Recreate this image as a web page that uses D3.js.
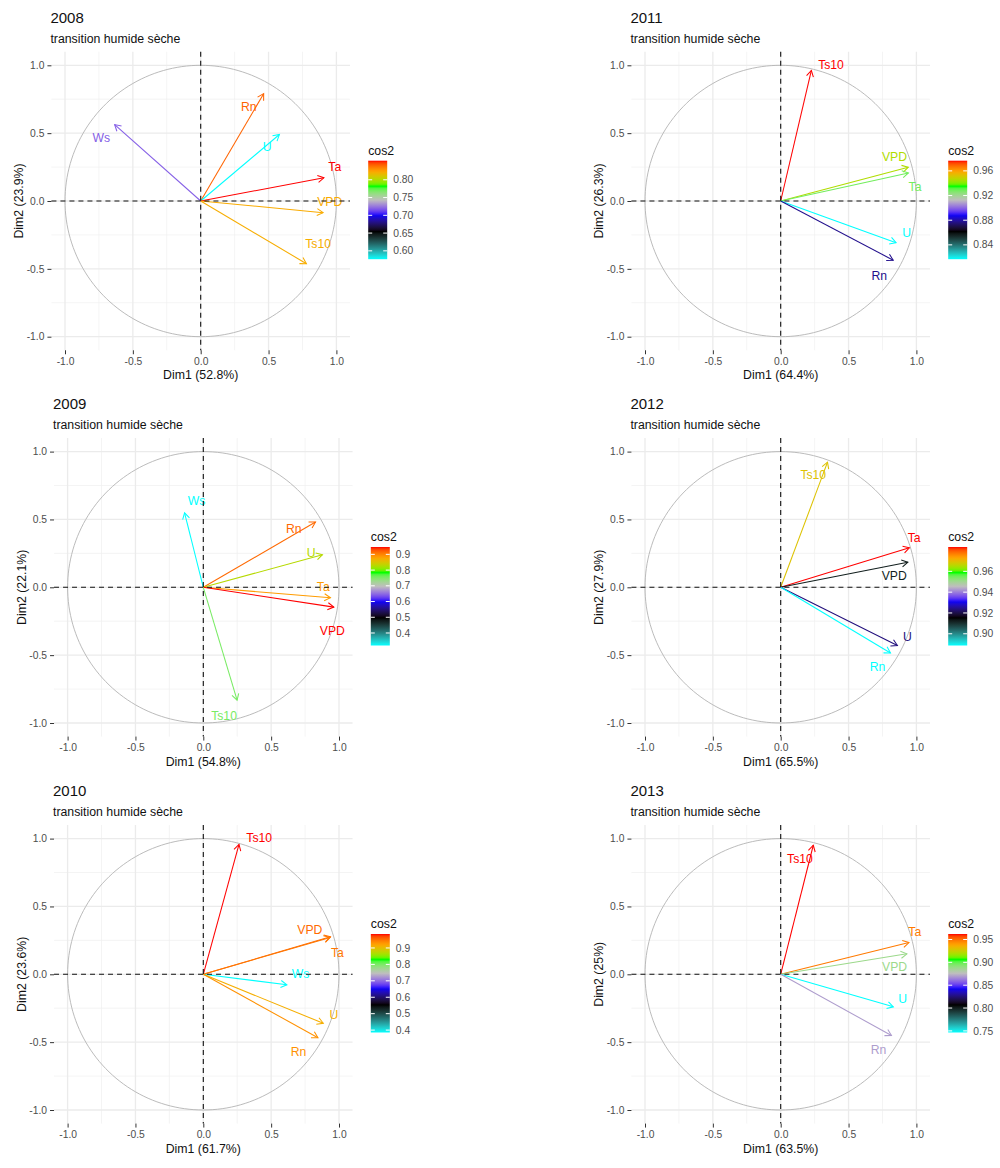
<!DOCTYPE html>
<html>
<head>
<meta charset="utf-8">
<title>ACP par année</title>
<script src="https://cdn.jsdelivr.net/npm/d3@7"></script>
<style>
    body, html {
        margin: 0;
        padding: 0;
        background: #fff;
    }
    svg text {
        font-family: "Liberation Sans", Arial, sans-serif;
    }
</style>
</head>
<body>
<svg id="chart" width="1000" height="1168"></svg>
<script>
// ---- data (coordinates on Dim1 / Dim2) ----
var years = ["2008", "2009", "2010", "2011", "2012", "2013"];
var dim1Pct = [52.8, 54.8, 61.7, 64.4, 65.5, 63.5];
var dim2Pct = [23.9, 22.1, 23.6, 26.3, 27.9, 25];

var vars2008 = ["Rn", "U", "Ta", "VPD", "Ts10", "Ws"];
var dim1_2008 = [0.464, 0.580, 0.908, 0.902, 0.779, -0.634];
var dim2_2008 = [0.791, 0.490, 0.171, -0.086, -0.462, 0.563];
var lab1_2008 = [0.354, 0.489, 0.988, 0.951, 0.865, -0.732];
var lab2_2008 = [0.698, 0.403, 0.251, -0.007, -0.314, 0.467];
var ticks2008 = ["0.60", "0.65", "0.70", "0.75", "0.80"];

var vars2009 = ["Ws", "Rn", "U", "Ta", "VPD", "Ts10"];
var dim1_2009 = [-0.138, 0.827, 0.878, 0.937, 0.962, 0.249];
var dim2_2009 = [0.549, 0.481, 0.240, -0.077, -0.146, -0.832];
var lab1_2009 = [-0.049, 0.667, 0.795, 0.884, 0.951, 0.153];
var lab2_2009 = [0.640, 0.432, 0.252, 0.005, -0.316, -0.946];
var ticks2009 = ["0.4", "0.5", "0.6", "0.7", "0.8", "0.9"];

var vars2010 = ["Ts10", "VPD", "Ta", "Ws", "U", "Rn"];
var dim1_2010 = [0.263, 0.937, 0.935, 0.616, 0.884, 0.845];
var dim2_2010 = [0.957, 0.277, 0.272, -0.077, -0.361, -0.467];
var lab1_2010 = [0.412, 0.785, 0.988, 0.716, 0.963, 0.701];
var lab2_2010 = [1.007, 0.333, 0.160, 0.002, -0.294, -0.568];
var ticks2010 = ["0.4", "0.5", "0.6", "0.7", "0.8", "0.9"];

var vars2011 = ["Ts10", "VPD", "Ta", "U", "Rn"];
var dim1_2011 = [0.226, 0.940, 0.941, 0.850, 0.829];
var dim2_2011 = [0.962, 0.249, 0.207, -0.307, -0.436];
var lab1_2011 = [0.371, 0.838, 0.990, 0.929, 0.727];
var lab2_2011 = [1.007, 0.329, 0.103, -0.236, -0.548];
var ticks2011 = ["0.84", "0.88", "0.92", "0.96"];

var vars2012 = ["Ts10", "Ta", "VPD", "U", "Rn"];
var dim1_2012 = [0.345, 0.948, 0.937, 0.860, 0.809];
var dim2_2012 = [0.922, 0.291, 0.185, -0.429, -0.484];
var lab1_2012 = [0.240, 0.984, 0.837, 0.933, 0.714];
var lab2_2012 = [0.827, 0.368, 0.086, -0.363, -0.584];
var ticks2012 = ["0.90", "0.92", "0.94", "0.96"];

var vars2013 = ["Ts10", "Ta", "VPD", "U", "Rn"];
var dim1_2013 = [0.240, 0.945, 0.930, 0.830, 0.816];
var dim2_2013 = [0.951, 0.234, 0.151, -0.240, -0.451];
var lab1_2013 = [0.142, 0.988, 0.839, 0.898, 0.721];
var lab2_2013 = [0.852, 0.314, 0.059, -0.182, -0.557];
var ticks2013 = ["0.75", "0.80", "0.85", "0.90", "0.95"];

var axisTicks = [-1, -0.5, 0, 0.5, 1];
var axisTickLabels = ["-1.0", "-0.5", "0.0", "0.5", "1.0"];
var minorTicks = [-0.75, -0.25, 0.25, 0.75];

// ---- layout ----
var unit = 135.7;
var centers = {
    "2008": [200.7, 201], "2009": [203.3, 587.3], "2010": [203.3, 974.3],
    "2011": [780.7, 201], "2012": [780.7, 587.3], "2013": [780.7, 974.3]
};

// gradient for cos2 (interpolated in Lab, like ggplot)
var palStops = [0, 0.28, 0.45, 0.6, 0.74, 0.89, 1];
var palCols = ["cyan", "black", "blue", "#BEBEBE", "#00FF00", "orange", "red"];
var pal = d3.scaleLinear().domain(palStops).range(palCols).interpolate(d3.interpolateLab);

var panels = [
    [vars2008, dim1_2008, dim2_2008, lab1_2008, lab2_2008, ticks2008],
    [vars2009, dim1_2009, dim2_2009, lab1_2009, lab2_2009, ticks2009],
    [vars2010, dim1_2010, dim2_2010, lab1_2010, lab2_2010, ticks2010],
    [vars2011, dim1_2011, dim2_2011, lab1_2011, lab2_2011, ticks2011],
    [vars2012, dim1_2012, dim2_2012, lab1_2012, lab2_2012, ticks2012],
    [vars2013, dim1_2013, dim2_2013, lab1_2013, lab2_2013, ticks2013]
];

var svg = d3.select("#chart");
var defs = svg.append("defs");

panels.forEach(function(p, i) {
    var year = years[i];
    var rows = p[0].map(function(name, j) {
        return {name: name, x: p[1][j], y: p[2][j], lx: p[3][j], ly: p[4][j],
                cos2: p[1][j] * p[1][j] + p[2][j] * p[2][j]};
    });
    var ext = d3.extent(rows, function(d) { return d.cos2; });
    var colorOf = function(v) { return pal((v - ext[0]) / (ext[1] - ext[0])); };

    var cx = centers[year][0], cy = centers[year][1];
    var x = d3.scaleLinear().domain([-1.1, 1.1]).range([cx - 1.1 * unit, cx + 1.1 * unit]);
    var y = d3.scaleLinear().domain([-1.1, 1.1]).range([cy + 1.1 * unit, cy - 1.1 * unit]);
    var left = x(-1.1), right = x(1.1), top = y(1.1), bottom = y(-1.1);

    var g = svg.append("g");

    // grid
    g.selectAll(".vminor").data(minorTicks).enter().append("line")
        .attr("x1", function(d) { return x(d); }).attr("x2", function(d) { return x(d); })
        .attr("y1", top).attr("y2", bottom)
        .attr("stroke", "#EFEFEF").attr("stroke-width", 0.7);
    g.selectAll(".hminor").data(minorTicks).enter().append("line")
        .attr("y1", function(d) { return y(d); }).attr("y2", function(d) { return y(d); })
        .attr("x1", left).attr("x2", right)
        .attr("stroke", "#EFEFEF").attr("stroke-width", 0.7);
    g.selectAll(".vmajor").data(axisTicks).enter().append("line")
        .attr("x1", function(d) { return x(d); }).attr("x2", function(d) { return x(d); })
        .attr("y1", top).attr("y2", bottom)
        .attr("stroke", "#EBEBEB").attr("stroke-width", 1.3);
    g.selectAll(".hmajor").data(axisTicks).enter().append("line")
        .attr("y1", function(d) { return y(d); }).attr("y2", function(d) { return y(d); })
        .attr("x1", left).attr("x2", right)
        .attr("stroke", "#EBEBEB").attr("stroke-width", 1.3);

    // axes
    var xAxis = d3.axisBottom(x).tickValues(axisTicks)
        .tickFormat(function(d, k) { return axisTickLabels[k]; })
        .tickSize(4).tickPadding(3);
    var yAxis = d3.axisLeft(y).tickValues(axisTicks)
        .tickFormat(function(d, k) { return axisTickLabels[k]; })
        .tickSize(4).tickPadding(3);
    var gx = g.append("g").attr("transform", "translate(0," + bottom + ")").call(xAxis);
    var gy = g.append("g").attr("transform", "translate(" + left + ",0)").call(yAxis);
    [gx, gy].forEach(function(a) {
        a.select(".domain").remove();
        a.selectAll("line").attr("stroke", "#333333");
        a.selectAll("text").attr("fill", "#4D4D4D").style("font-size", "10.3px")
            .style("font-family", "'Liberation Sans', Arial, sans-serif");
    });

    // correlation circle
    var circle = d3.range(0, 361, 2).map(function(a) {
        return [Math.cos(a * Math.PI / 180), Math.sin(a * Math.PI / 180)];
    });
    g.append("path")
        .attr("d", d3.line().x(function(d) { return x(d[0]); }).y(function(d) { return y(d[1]); })(circle))
        .attr("fill", "none").attr("stroke", "#B3B3B3").attr("stroke-width", 0.9);

    // arrows
    var ah = 7, aw = Math.PI / 6;
    rows.forEach(function(d) {
        var x0 = x(0), y0 = y(0), x1 = x(d.x), y1 = y(d.y);
        var a = Math.atan2(y1 - y0, x1 - x0);
        var col = colorOf(d.cos2);
        g.append("line").attr("x1", x0).attr("y1", y0).attr("x2", x1).attr("y2", y1)
            .attr("stroke", col).attr("stroke-width", 1.05);
        g.append("path")
            .attr("d", "M" + (x1 + ah * Math.cos(a + Math.PI - aw)) + "," + (y1 + ah * Math.sin(a + Math.PI - aw)) +
                "L" + x1 + "," + y1 +
                "L" + (x1 + ah * Math.cos(a + Math.PI + aw)) + "," + (y1 + ah * Math.sin(a + Math.PI + aw)))
            .attr("fill", "none").attr("stroke", col).attr("stroke-width", 1.05);
    });

    // labels
    g.selectAll(".lab").data(rows).enter().append("text")
        .attr("x", function(d) { return x(d.lx); })
        .attr("y", function(d) { return y(d.ly); })
        .attr("dy", "0.36em")
        .attr("text-anchor", "middle")
        .style("font-size", "12.2px")
        .attr("fill", function(d) { return colorOf(d.cos2); })
        .text(function(d) { return d.name; });

    // zero lines
    g.append("line").attr("x1", left).attr("x2", right).attr("y1", y(0)).attr("y2", y(0))
        .attr("stroke", "#111").attr("stroke-width", 1.1).attr("stroke-dasharray", "5,4");
    g.append("line").attr("y1", top).attr("y2", bottom).attr("x1", x(0)).attr("x2", x(0))
        .attr("stroke", "#111").attr("stroke-width", 1.1).attr("stroke-dasharray", "5,4");

    // titles
    g.append("text").attr("x", left - 1).attr("y", top - 29)
        .style("font-size", "15px").attr("fill", "#111").text(year);
    g.append("text").attr("x", left - 1).attr("y", top - 9)
        .style("font-size", "12.3px").attr("fill", "#111").text("transition humide sèche");
    g.append("text").attr("x", cx).attr("y", bottom + 29)
        .attr("text-anchor", "middle").style("font-size", "12.3px").attr("fill", "#111")
        .text("Dim1 (" + dim1Pct[i] + "%)");
    g.append("text")
        .attr("transform", "translate(" + (left - 28) + "," + cy + ") rotate(-90)")
        .attr("text-anchor", "middle").style("font-size", "12.3px").attr("fill", "#111")
        .text("Dim2 (" + dim2Pct[i] + "%)");

    // colour bar legend
    var barX = cx + 167.5, barW = 19, barTop = cy + 9 - 49.3, barH = 98.5;
    var gradId = "grad" + year;
    var grad = defs.append("linearGradient").attr("id", gradId)
        .attr("x1", 0).attr("y1", 1).attr("x2", 0).attr("y2", 0);
    d3.range(0, 1.0001, 0.02).forEach(function(t) {
        grad.append("stop").attr("offset", t).attr("stop-color", pal(t));
    });
    var ly = d3.scaleLinear().domain(ext).range([barTop + barH, barTop]);
    g.append("text").attr("x", barX).attr("y", barTop - 6)
        .style("font-size", "12.3px").attr("fill", "#111").text("cos2");
    g.append("rect").attr("x", barX).attr("y", barTop).attr("width", barW).attr("height", barH)
        .attr("fill", "url(#" + gradId + ")");
    p[5].forEach(function(t) {
        var ty = ly(+t);
        g.append("line").attr("x1", barX).attr("x2", barX + 4).attr("y1", ty).attr("y2", ty)
            .attr("stroke", "#fff").attr("stroke-width", 1);
        g.append("line").attr("x1", barX + barW - 4).attr("x2", barX + barW).attr("y1", ty).attr("y2", ty)
            .attr("stroke", "#fff").attr("stroke-width", 1);
        g.append("text").attr("x", barX + barW + 6).attr("y", ty).attr("dy", "0.35em")
            .style("font-size", "10.3px").attr("fill", "#4D4D4D").text(t);
    });
});
</script>
</body>
</html>
